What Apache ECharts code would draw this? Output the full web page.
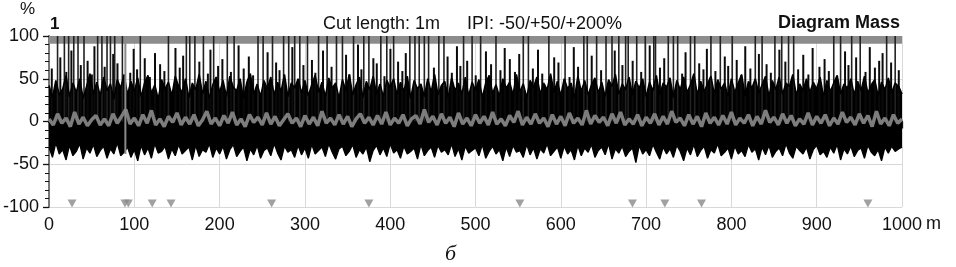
<!DOCTYPE html>
<html><head><meta charset="utf-8">
<script src="https://cdn.jsdelivr.net/npm/echarts@6/dist/echarts.min.js"></script>
<style>html,body{margin:0;padding:0;background:#fff;}#c{width:956px;height:267px;}</style>
</head><body><div id="c"></div>
<script>
// sample step (m) for the envelope and mean arrays
var envStep = 4;
var meanStep = 5;
// upper envelope of the dense trace, every 4 m from 0 to 1000
var upper = [
42,28,48,31,38,54,29,45,34,50,27,41,56,32,46,30,52,36,44,26,49,39,55,31,47,
35,51,29,45,54,33,43,26,49,38,46,30,53,41,34,50,28,45,37,55,32,47,27,43,52,
34,48,29,53,40,36,50,27,46,56,32,44,29,48,38,52,31,46,35,55,29,45,39,50,33,
48,30,43,54,34,46,29,51,39,45,27,49,36,55,31,43,52,28,47,37,53,32,44,29,48,
40,50,31,46,35,53,27,48,38,44,29,50,34,55,31,42,47,28,51,36,45,32,52,30,46,
36,49,28,45,54,33,43,29,50,39,46,31,55,35,44,28,48,40,52,32,45,37,56,34,47,
30,50,38,45,27,53,35,48,31,43,51,33,46,29,49,41,55,32,44,37,52,31,47,39,50,
29,46,36,54,31,45,40,51,28,48,37,52,34,43,56,31,47,35,44,53,32,49,38,45,29,
50,34,45,55,30,47,39,50,33,43,53,29,48,37,52,32,45,41,55,31,44,36,50,34,46,
38,52,29,48,35,45,54,32,44,39,50,31,47,36,53,33,43,49,30,46,37,51,34,45,41,
32];
// lower envelope of the trace, every 4 m
var lower = [
-30,-42,-25,-38,-33,-45,-28,-40,-35,-26,-44,-31,-37,-27,-41,-34,-29,-43,-32,-38,-25,-40,-36,-30,-42,
-33,-46,-28,-39,-31,-43,-26,-37,-35,-29,-44,-32,-40,-27,-38,-34,-30,-45,-28,-41,-33,-36,-26,-42,-31,
-38,-29,-44,-33,-27,-41,-35,-30,-46,-32,-39,-28,-43,-34,-31,-40,-26,-37,-45,-29,-36,-33,-42,-28,-39,
-31,-43,-27,-38,-34,-30,-41,-26,-36,-44,-32,-29,-40,-35,-27,-42,-33,-38,-30,-47,-34,-28,-39,-31,-41,
-26,-37,-33,-43,-29,-38,-35,-31,-44,-27,-40,-34,-30,-42,-28,-36,-33,-39,-26,-41,-32,-45,-29,-37,-34,
-31,-40,-27,-43,-35,-29,-38,-33,-46,-30,-41,-28,-36,-34,-42,-27,-39,-31,-44,-32,-37,-26,-40,-35,-30,
-43,-29,-38,-33,-45,-28,-40,-31,-36,-27,-42,-34,-30,-39,-26,-44,-32,-37,-29,-41,-35,-31,-48,-28,-38,
-33,-40,-27,-36,-44,-30,-38,-32,-42,-28,-35,-46,-31,-39,-27,-41,-34,-29,-43,-33,-37,-26,-40,-36,-31,
-44,-29,-38,-34,-41,-27,-36,-32,-45,-30,-39,-28,-42,-35,-31,-40,-26,-37,-43,-29,-34,-38,-30,-44,-33,
-28,-39,-35,-42,-30,-37,-27,-45,-32,-38,-29,-41,-34,-31,-43,-28,-36,-40,-33,-46,-30,-37,-29,-35,-32,
-30];
// gray mean line, every 5 m
var meanLine = [
3,-4,9,-2,4,-6,11,-3,5,-5,2,7,-4,3,-5,9,-2,6,14,-3,
4,-5,8,-2,13,-4,3,-6,6,-1,10,-4,5,-3,8,-5,2,12,-3,4,
-5,7,-2,11,-4,3,-6,8,-1,5,-4,10,-3,6,-5,2,9,-2,4,-6,
7,-3,5,-5,12,-2,4,-4,8,-3,6,-6,3,9,-2,5,-4,7,-3,11,
-4,4,-2,8,-5,3,7,-3,14,-1,6,-4,9,-2,5,-6,10,-3,4,-5,
8,-2,6,-4,11,-3,3,-5,7,-1,12,-4,5,-3,9,-2,4,-6,8,-3,
6,-5,10,-2,4,-4,13,-3,7,-1,5,-5,9,-2,11,-4,3,-3,8,-5,
5,-2,9,-4,6,-3,12,-1,4,-5,8,-3,6,-6,10,-2,5,-4,7,-3,
11,-4,4,-2,8,-5,6,-3,13,-1,5,-4,9,-2,7,-5,3,-3,10,-4,
6,-2,8,-5,4,-3,11,-1,5,-4,9,-2,7,-6,12,-3,4,-5,8,-2,
3];
// the tall gray spike near 90 m
var graySpike = [[89.5,-38],[89.5,100]];
// tall spikes reaching the top band: position (m), height (%)
var spikePos = [10,18,23,29,34,41,57,62,68,72,77,86,107,140,161,165,
171,181,193,209,217,245,251,262,275,281,288,294,303,316,326,337,
344,357,369,375,389,396,404,423,429,434,440,445,457,463,486,496,506,
524,556,562,586,605,627,631,642,653,660,668,676,
679,689,699,709,711,726,732,737,752,757,776,787,801,828,836,
851,859,867,873,920,928,941,951,982,992];
var spikeH = [100,100,100,100,100,100,100,100,100,100,100,100,100,100,100,100,
100,100,100,100,100,100,100,100,100,100,100,100,100,100,100,100,
100,100,100,100,100,100,100,100,100,100,100,100,100,100,100,100,100,
100,100,100,100,100,100,100,100,100,100,100,100,
100,100,100,100,100,100,100,100,100,100,100,100,100,100,100,
100,100,100,100,100,100,100,100,100,100];
// medium spikes: position (m), height (%)
var midPos = [3,13,20,26,37,45,50,53,65,75,80,95,99,103,112,118,124,130,135,148,153,157,176,186,189,198,203,213,222,228,234,239,256,266,270,285,298,308,312,321,331,348,352,362,366,380,384,393,400,409,414,418,451,467,472,478,482,490,500,512,518,529,534,540,546,551,567,573,578,592,597,610,615,620,636,647,663,672,684,694,704,716,721,742,746,762,767,771,781,792,796,806,811,816,822,832,841,846,856,863,878,884,890,895,903,909,914,933,937,946,957,962,968,973,977,987,996];
var midH = [
62,75,58,83,66,71,55,88,64,79,
68,57,85,61,74,52,80,67,59,86,
63,77,70,56,84,65,73,58,89,62,
76,54,81,69,60,87,66,72,57,83,
64,78,55,90,61,74,68,53,85,70,
59,80,63,76,57,88,65,71,54,82,
67,60,86,73,58,79,62,84,56,75,
69,52,87,64,77,60,83,66,71,58,
89,63,74,56,81,68,61,85,59,76,
65,72,54,88,62,79,67,57,84,70,
61,78,55,86,64,73,59,82,66,75,
58,87,63,71,80,69,60];
// marker triangles (m)
var markerPos = [27,89,93,121,143,261,375,552,684,722,765,960];
var markerLevel = -96;
// tick labels
var yTicks = [-100,-50,0,50,100];

var FONT = 'Liberation Sans, Arial, sans-serif';
var upData = upper.map(function(v,i){return [i*envStep,v];});
var loData = lower.map(function(v,i){return [i*envStep,v];});
var meanData = meanLine.map(function(v,i){return [i*meanStep,v];});
var spikeData = spikePos.map(function(p,i){return [p,spikeH[i]];});
var midData = midPos.map(function(p,i){return [p,midH[i]];});
var markerData = markerPos.map(function(p){return [p,markerLevel];});

var chart = echarts.init(document.getElementById('c'), null, {renderer:'canvas'});
chart.setOption({
  animation:false,
  backgroundColor:'#fff',
  grid:{left:49,right:54,top:36,bottom:60},
  xAxis:[{
    type:'value',min:0,max:1000,interval:100,position:'bottom',
    axisLine:{lineStyle:{color:'#111',width:1.5}},
    axisTick:{show:true,length:7,lineStyle:{color:'#111',width:1.3}},
    minorTick:{show:true,splitNumber:5,length:4,lineStyle:{color:'#111',width:1}},
    axisLabel:{fontFamily:FONT,fontSize:18,color:'#111',margin:9,
      formatter:function(v){return String(v);}},
    splitLine:{show:true,lineStyle:{color:'#d8d8d8',width:1}}
  },{
    type:'value',min:0,max:1000,position:'top',
    axisLine:{show:true,lineStyle:{color:'#111',width:2}},
    axisTick:{show:false},axisLabel:{show:false},splitLine:{show:false}
  }],
  yAxis:[{
    type:'value',min:-100,max:100,interval:50,position:'left',
    axisLine:{show:true,lineStyle:{color:'#111',width:1.5}},
    axisTick:{show:true,length:6,lineStyle:{color:'#111',width:1.3}},
    minorTick:{show:true,splitNumber:5,length:4,lineStyle:{color:'#111',width:1}},
    axisLabel:{fontFamily:FONT,fontSize:18,color:'#111',margin:10,
      formatter:function(v){return yTicks.indexOf(v)>=0?String(v):'';}},
    splitLine:{show:true,lineStyle:{color:'#d8d8d8',width:1}}
  },{
    type:'value',min:-100,max:100,position:'right',
    axisLine:{show:true,lineStyle:{color:'#888',width:1.5}},
    axisTick:{show:false},axisLabel:{show:false},splitLine:{show:false}
  }],
  series:[
    {type:'line',data:upData,symbol:'none',z:2,
     lineStyle:{color:'#000',width:1.6},areaStyle:{color:'#000',opacity:1,origin:0}},
    {type:'line',data:loData,symbol:'none',z:2,
     lineStyle:{color:'#000',width:1.3},areaStyle:{color:'#000',opacity:1,origin:0}},
    {type:'bar',data:midData,barWidth:2,barGap:'-100%',z:2,itemStyle:{color:'#0a0a0a'}},
    {type:'bar',data:spikeData,barWidth:1.6,barGap:'-100%',z:2,itemStyle:{color:'#222'}},
    {type:'line',data:meanData,symbol:'none',z:3,
     lineStyle:{color:'#7d7d7d',width:3.5}},
    {type:'line',data:graySpike,symbol:'none',z:3,
     lineStyle:{color:'#8a8a8a',width:2}},
    {type:'scatter',data:markerData,symbol:'triangle',symbolRotate:180,symbolSize:[9,8],z:4,
     itemStyle:{color:'#8a8a8a'}},
    {type:'line',data:[[0,100]],symbol:'none',z:5,lineStyle:{width:0},
     markArea:{silent:true,itemStyle:{color:'#8c8c8c',opacity:1},
       data:[[{xAxis:0,yAxis:91},{xAxis:1000,yAxis:100}]]}}
  ],
  graphic:[
    {type:'text',left:20,top:1,style:{text:'%',font:'17px '+FONT,fill:'#111'}},
    {type:'text',left:50,top:16,style:{text:'1',font:'bold 17px '+FONT,fill:'#111'}},
    {type:'text',left:323,top:15,style:{text:'Cut length: 1m',font:'18px '+FONT,fill:'#111'}},
    {type:'text',left:467,top:15,style:{text:'IPI: -50/+50/+200%',font:'18px '+FONT,fill:'#111'}},
    {type:'text',right:56,top:14,style:{text:'Diagram Mass',font:'bold 18px '+FONT,fill:'#111'}},
    {type:'text',left:926,top:215,style:{text:'m',font:'18px '+FONT,fill:'#111'}},
    {type:'text',left:445,top:243,style:{text:'б',font:'italic 22px "Liberation Serif", "DejaVu Serif", serif',fill:'#111'}}
  ]
});
</script>
</body></html>
